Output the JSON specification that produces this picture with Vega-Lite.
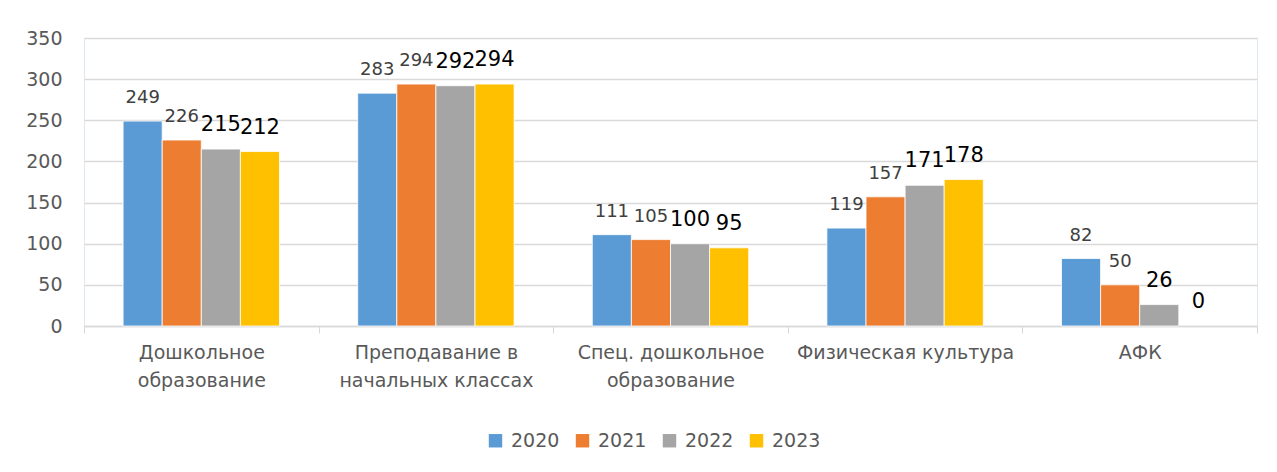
{
  "$schema": "https://vega.github.io/schema/vega-lite/v6.json",
  "width": 1173,
  "height": 288,
  "autosize": {"type": "none"},
  "padding": {"left": 84, "top": 38, "right": 20, "bottom": 146},
  "background": "#ffffff",
  "config": {
    "font": "DejaVu Sans",
    "view": {"stroke": "#dde8f3", "strokeWidth": 1}
  },
  "data": {
    "values": [
      {"category": "Дошкольное образование", "year": "2020", "value": 249},
      {"category": "Дошкольное образование", "year": "2021", "value": 226},
      {"category": "Дошкольное образование", "year": "2022", "value": 215},
      {"category": "Дошкольное образование", "year": "2023", "value": 212},
      {"category": "Преподавание в начальных классах", "year": "2020", "value": 283},
      {"category": "Преподавание в начальных классах", "year": "2021", "value": 294},
      {"category": "Преподавание в начальных классах", "year": "2022", "value": 292},
      {"category": "Преподавание в начальных классах", "year": "2023", "value": 294},
      {"category": "Спец. дошкольное образование", "year": "2020", "value": 111},
      {"category": "Спец. дошкольное образование", "year": "2021", "value": 105},
      {"category": "Спец. дошкольное образование", "year": "2022", "value": 100},
      {"category": "Спец. дошкольное образование", "year": "2023", "value": 95},
      {"category": "Физическая культура", "year": "2020", "value": 119},
      {"category": "Физическая культура", "year": "2021", "value": 157},
      {"category": "Физическая культура", "year": "2022", "value": 171},
      {"category": "Физическая культура", "year": "2023", "value": 178},
      {"category": "АФК", "year": "2020", "value": 82},
      {"category": "АФК", "year": "2021", "value": 50},
      {"category": "АФК", "year": "2022", "value": 26},
      {"category": "АФК", "year": "2023", "value": 0}
    ]
  },
  "encoding": {
    "x": {
      "field": "category",
      "type": "nominal",
      "sort": null,
      "scale": {"paddingInner": 0, "paddingOuter": 0},
      "axis": {
        "title": null,
        "labelAngle": 0,
        "labelFontSize": 19,
        "labelColor": "#595959",
        "labelBaseline": "top",
        "labelPadding": 10,
        "labelLineHeight": 28,
        "labelLimit": 300,
        "domainColor": "#d9d9d9",
        "domainWidth": 1.5,
        "tickColor": "#d9d9d9",
        "tickSize": 7,
        "tickBand": "extent",
        "labelExpr": "datum.value == 'Дошкольное образование' ? ['Дошкольное', 'образование'] : datum.value == 'Преподавание в начальных классах' ? ['Преподавание в', 'начальных классах'] : datum.value == 'Спец. дошкольное образование' ? ['Спец. дошкольное', 'образование'] : datum.value"
      }
    },
    "xOffset": {
      "field": "year",
      "type": "nominal",
      "scale": {"paddingInner": 0, "paddingOuter": 1.087}
    },
    "y": {
      "field": "value",
      "type": "quantitative",
      "scale": {"domain": [0, 350]},
      "axis": {
        "title": null,
        "values": [0, 50, 100, 150, 200, 250, 300, 350],
        "domain": false,
        "ticks": false,
        "labelPadding": 22,
        "labelFontSize": 19,
        "labelColor": "#595959",
        "gridColor": "#d9d9d9",
        "gridWidth": 1.5
      }
    }
  },
  "layer": [
    {
      "mark": {"type": "bar", "stroke": "#ffffff"},
      "encoding": {
        "strokeWidth": {"condition": {"test": "datum.value == 0", "value": 0}, "value": 0.8},
        "color": {
          "field": "year",
          "type": "nominal",
          "scale": {"domain": ["2020", "2021", "2022", "2023"], "range": ["#5b9bd5", "#ed7d31", "#a5a5a5", "#ffc000"]},
          "legend": {
            "title": null,
            "orient": "none",
            "direction": "horizontal",
            "legendX": 402,
            "legendY": 393,
            "padding": 0,
            "symbolType": "square",
            "symbolSize": 180,
            "symbolStrokeWidth": 0,
            "labelFontSize": 19,
            "labelColor": "#595959",
            "labelOffset": 6,
            "columnPadding": 13
          }
        }
      }
    },
    {
      "mark": {"type": "text", "baseline": "alphabetic", "align": "center", "dy": -18},
      "encoding": {
        "text": {"field": "value", "type": "quantitative"},
        "color": {"condition": {"test": "datum.year == '2022' || datum.year == '2023'", "value": "#000000"}, "value": "#404040"},
        "size": {"condition": {"test": "datum.year == '2022' || datum.year == '2023'", "value": 21}, "value": 18}
      }
    }
  ]
}
